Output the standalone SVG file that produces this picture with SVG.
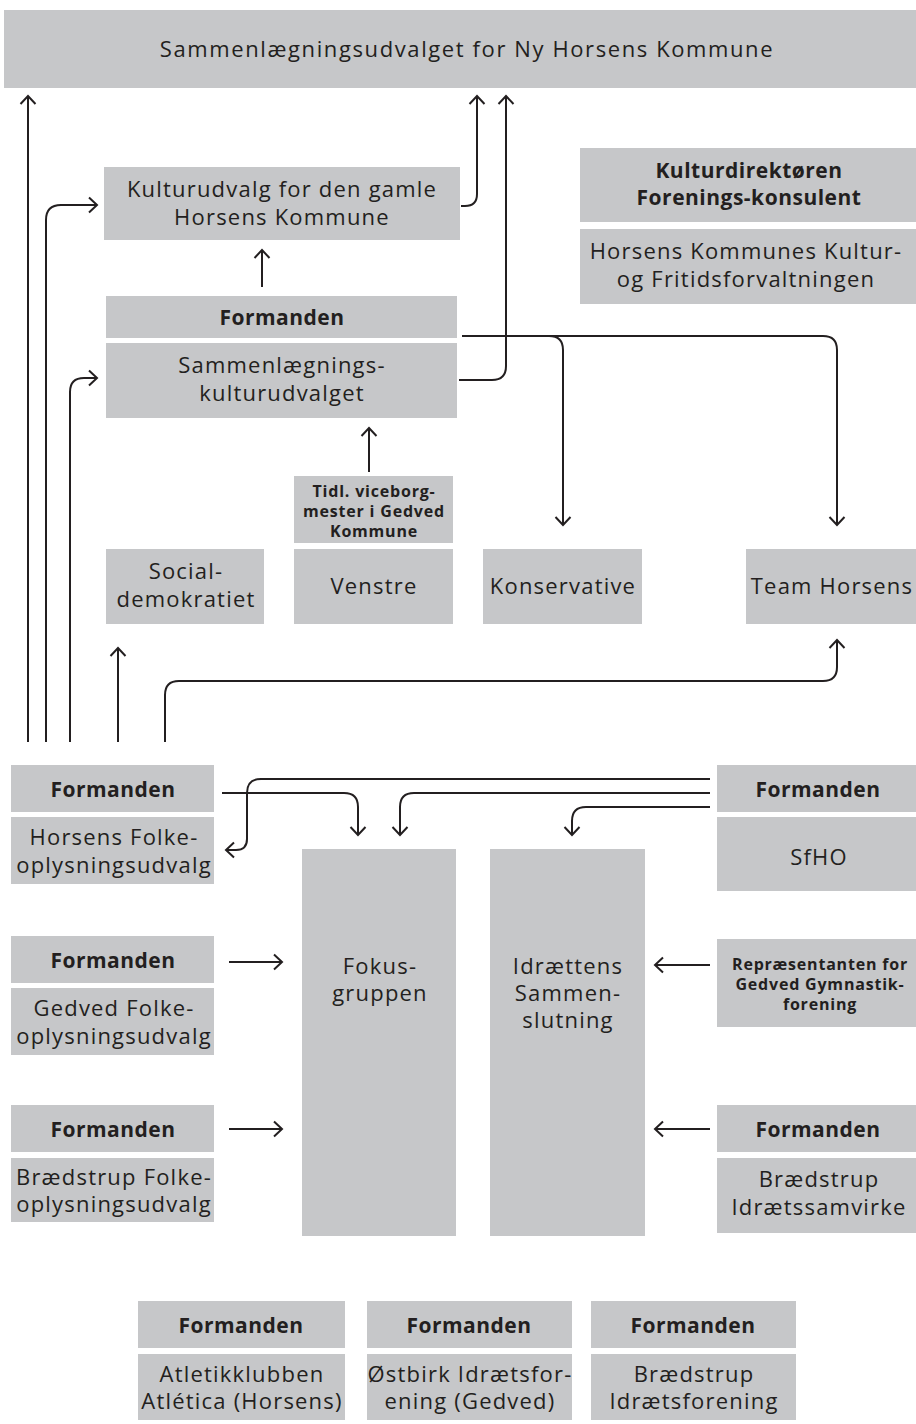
<svg xmlns="http://www.w3.org/2000/svg" width="916" height="1424" viewBox="0 0 916 1424">
<style>
.b{fill:#c6c7c9}
.t{font-family:"Open Sans",sans-serif;font-size:22px;letter-spacing:1.2px;fill:#231f20;text-anchor:middle}
.bd{font-size:21px;font-weight:bold;letter-spacing:0.5px}
.s{font-size:16px;font-weight:bold;letter-spacing:0.8px}
.ti{letter-spacing:1.6px}
.c path{fill:none;stroke:#231f20;stroke-width:2}
</style>
<defs>
<marker id="a" viewBox="-10 -9 12 18" markerWidth="12" markerHeight="18" refX="0" refY="0" orient="auto" markerUnits="userSpaceOnUse">
<path d="M-8,-7.5 L0,0 L-8,7.5" fill="none" stroke="#231f20" stroke-width="2"/>
</marker>
</defs>
<rect width="916" height="1424" fill="#fff"/>
<g id="top"><rect class="b" x="4" y="10" width="912" height="78"/><text class="t ti" x="467" y="57">Sammenlægningsudvalget for Ny Horsens Kommune</text></g>
<g id="kulturudvalg"><rect class="b" x="104" y="167" width="356" height="73"/><text class="t" x="282" y="197">Kulturudvalg for den gamle</text><text class="t" x="282" y="225">Horsens Kommune</text></g>
<g id="formanden-sk"><rect class="b" x="106" y="296" width="351" height="42"/><text class="t bd" x="282" y="325">Formanden</text></g>
<g id="sammenlaegnings"><rect class="b" x="106" y="343" width="351" height="75"/><text class="t" x="282" y="373">Sammenlægnings-</text><text class="t" x="282" y="401">kulturudvalget</text></g>
<g id="kulturdirektoren"><rect class="b" x="580" y="148" width="336" height="74"/><text class="t bd" x="749" y="178">Kulturdirektøren</text><text class="t bd" x="749" y="205">Forenings-konsulent</text></g>
<g id="forvaltning"><rect class="b" x="580" y="229" width="336" height="75"/><text class="t" x="746" y="259">Horsens Kommunes Kultur-</text><text class="t" x="746" y="287">og Fritidsforvaltningen</text></g>
<g id="tidl"><rect class="b" x="294" y="476" width="159" height="67"/><text class="t s" x="374" y="497">Tidl. viceborg-</text><text class="t s" x="374" y="517">mester i Gedved</text><text class="t s" x="374" y="537">Kommune</text></g>
<g id="venstre"><rect class="b" x="294" y="549" width="159" height="75"/><text class="t" x="374" y="594">Venstre</text></g>
<g id="socialdemokratiet"><rect class="b" x="106" y="549" width="158" height="75"/><text class="t" x="186" y="579">Social-</text><text class="t" x="186" y="607">demokratiet</text></g>
<g id="konservative"><rect class="b" x="483" y="549" width="159" height="75"/><text class="t" x="563" y="594">Konservative</text></g>
<g id="teamhorsens"><rect class="b" x="746" y="549" width="170" height="75"/><text class="t" x="832" y="594">Team Horsens</text></g>
<g id="formanden-hfo"><rect class="b" x="11" y="765" width="203" height="47"/><text class="t bd" x="113" y="797">Formanden</text></g>
<g id="hfo"><rect class="b" x="11" y="817" width="203" height="67"/><text class="t" x="114" y="845">Horsens Folke-</text><text class="t" x="114" y="873">oplysningsudvalg</text></g>
<g id="formanden-gfo"><rect class="b" x="11" y="936" width="203" height="47"/><text class="t bd" x="113" y="968">Formanden</text></g>
<g id="gfo"><rect class="b" x="11" y="988" width="203" height="67"/><text class="t" x="114" y="1016">Gedved Folke-</text><text class="t" x="114" y="1044">oplysningsudvalg</text></g>
<g id="formanden-bfo"><rect class="b" x="11" y="1105" width="203" height="47"/><text class="t bd" x="113" y="1137">Formanden</text></g>
<g id="bfo"><rect class="b" x="11" y="1158" width="203" height="64"/><text class="t" x="114" y="1185">Brædstrup Folke-</text><text class="t" x="114" y="1212">oplysningsudvalg</text></g>
<g id="fokus"><rect class="b" x="302" y="849" width="154" height="387"/><text class="t" x="380" y="974">Fokus-</text><text class="t" x="380" y="1001">gruppen</text></g>
<g id="idraettens"><rect class="b" x="490" y="849" width="155" height="387"/><text class="t" x="568" y="974">Idrættens</text><text class="t" x="568" y="1001">Sammen-</text><text class="t" x="568" y="1028">slutning</text></g>
<g id="formanden-sfho"><rect class="b" x="717" y="765" width="199" height="47"/><text class="t bd" x="818" y="797">Formanden</text></g>
<g id="sfho"><rect class="b" x="717" y="817" width="199" height="74"/><text class="t" x="819" y="865">SfHO</text></g>
<g id="repraesentanten"><rect class="b" x="717" y="939" width="199" height="88"/><text class="t s" x="820" y="970">Repræsentanten for</text><text class="t s" x="820" y="990">Gedved Gymnastik-</text><text class="t s" x="820" y="1010">forening</text></g>
<g id="formanden-bis"><rect class="b" x="717" y="1105" width="199" height="47"/><text class="t bd" x="818" y="1137">Formanden</text></g>
<g id="bis"><rect class="b" x="717" y="1158" width="199" height="75"/><text class="t" x="819" y="1187">Brædstrup</text><text class="t" x="819" y="1215">Idrætssamvirke</text></g>
<g id="formanden-aa"><rect class="b" x="138" y="1301" width="207" height="47"/><text class="t bd" x="241" y="1333">Formanden</text></g>
<g id="atletica"><rect class="b" x="138" y="1354" width="207" height="66"/><text class="t" x="242" y="1382">Atletikklubben</text><text class="t" x="242" y="1409">Atlética (Horsens)</text></g>
<g id="formanden-oif"><rect class="b" x="367" y="1301" width="205" height="47"/><text class="t bd" x="469" y="1333">Formanden</text></g>
<g id="ostbirk"><rect class="b" x="367" y="1354" width="205" height="66"/><text class="t" x="470" y="1382">Østbirk Idrætsfor-</text><text class="t" x="470" y="1409">ening (Gedved)</text></g>
<g id="formanden-bif"><rect class="b" x="591" y="1301" width="205" height="47"/><text class="t bd" x="693" y="1333">Formanden</text></g>
<g id="bif"><rect class="b" x="591" y="1354" width="205" height="66"/><text class="t" x="694" y="1382">Brædstrup</text><text class="t" x="694" y="1409">Idrætsforening</text></g>
<g id="connectors" class="c">
<path d="M28,742 V96" marker-end="url(#a)"/>
<path d="M461,206 H465 Q477,206 477,194 V96" marker-end="url(#a)"/>
<path d="M459,380 H492 Q506,380 506,366 V96" marker-end="url(#a)"/>
<path d="M46,742 V220 Q46,205 61,205 H97" marker-end="url(#a)"/>
<path d="M70,742 V392 Q70,378 84,378 H97" marker-end="url(#a)"/>
<path d="M262,287 V250" marker-end="url(#a)"/>
<path d="M462,336 H823 Q837,336 837,350 V525" marker-end="url(#a)"/>
<path d="M540,336 H549 Q563,336 563,350 V525" marker-end="url(#a)"/>
<path d="M369,472 V428" marker-end="url(#a)"/>
<path d="M118,742 V648" marker-end="url(#a)"/>
<path d="M165,742 V695 Q165,681 179,681 H823 Q837,681 837,667 V640" marker-end="url(#a)"/>
<path d="M222,793 H344 Q358,793 358,807 V835" marker-end="url(#a)"/>
<path d="M710,779 H261 Q247,779 247,793 V839 Q247,850 236,850 H226" marker-end="url(#a)"/>
<path d="M710,793 H414 Q400,793 400,807 V835" marker-end="url(#a)"/>
<path d="M710,807 H586 Q572,807 572,821 V835" marker-end="url(#a)"/>
<path d="M710,965 H655" marker-end="url(#a)"/>
<path d="M710,1129 H655" marker-end="url(#a)"/>
<path d="M229,962 H282" marker-end="url(#a)"/>
<path d="M229,1129 H282" marker-end="url(#a)"/>
</g>
</svg>
